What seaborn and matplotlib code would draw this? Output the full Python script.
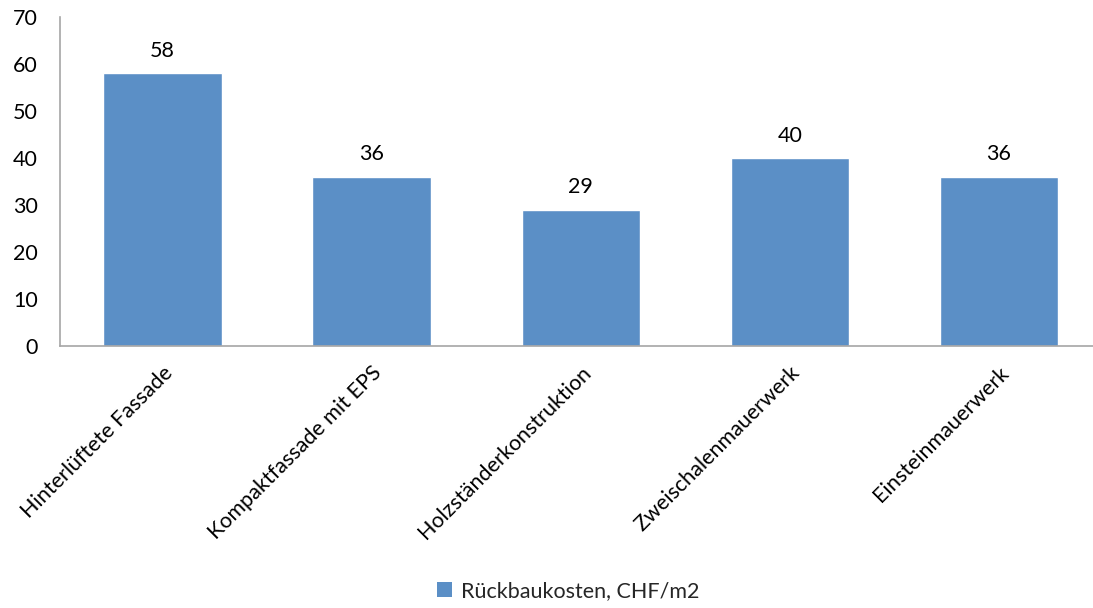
import matplotlib
matplotlib.use("Agg")
import matplotlib.pyplot as plt
from matplotlib.patches import Patch
import seaborn as sns
import pandas as pd

categories = [
    "Hinterlüftete Fassade",
    "Kompaktfassade mit EPS",
    "Holzständerkonstruktion",
    "Zweischalenmauerwerk",
    "Einsteinmauerwerk",
]
values = [58, 36, 29, 40, 36]
series_name = "Rückbaukosten, CHF/m2"

bar_color = "#5B8FC6"
axis_color = "#A6A6A6"
font_size = 15.5

sns.set_theme(style="white")
plt.rcParams["font.family"] = ["Lato", "DejaVu Sans"]

df = pd.DataFrame({"Bauteil": categories, "Kosten": values})

fig = plt.figure(figsize=(10.93, 6.08), dpi=100)
ax = fig.add_axes([60 / 1093, 1 - 346 / 608, (1093 - 60) / 1093, 329 / 608])

sns.barplot(data=df, x="Bauteil", y="Kosten", color=bar_color,
            width=0.565, saturation=1, ax=ax)

ax.set_xlim(-0.49, 4.45)
ax.set_ylim(0, 70)
ax.set_yticks(range(0, 71, 10))
ax.set_xlabel("")
ax.set_ylabel("")

for side in ["top", "right"]:
    ax.spines[side].set_visible(False)
for side in ["left", "bottom"]:
    ax.spines[side].set_color(axis_color)
    ax.spines[side].set_linewidth(1.2)

ax.tick_params(axis="both", length=0, labelsize=font_size, colors="black")
ax.tick_params(axis="y", pad=16)
ax.tick_params(axis="x", pad=12)
for lbl in ax.get_xticklabels():
    lbl.set_rotation(45)
    lbl.set_ha("right")
    lbl.set_rotation_mode("anchor")

for container in ax.containers:
    ax.bar_label(container, labels=[str(v) for v in values],
                 padding=9, fontsize=font_size, color="black")

handles = [Patch(facecolor=bar_color, edgecolor="none", label=series_name)]
fig.legend(handles=handles, loc="center", bbox_to_anchor=(568 / 1093, 1 - 591 / 608),
           frameon=False, fontsize=font_size, handlelength=0.7, handleheight=0.7,
           handletextpad=0.4)

fig.savefig("out.png", dpi=100)
